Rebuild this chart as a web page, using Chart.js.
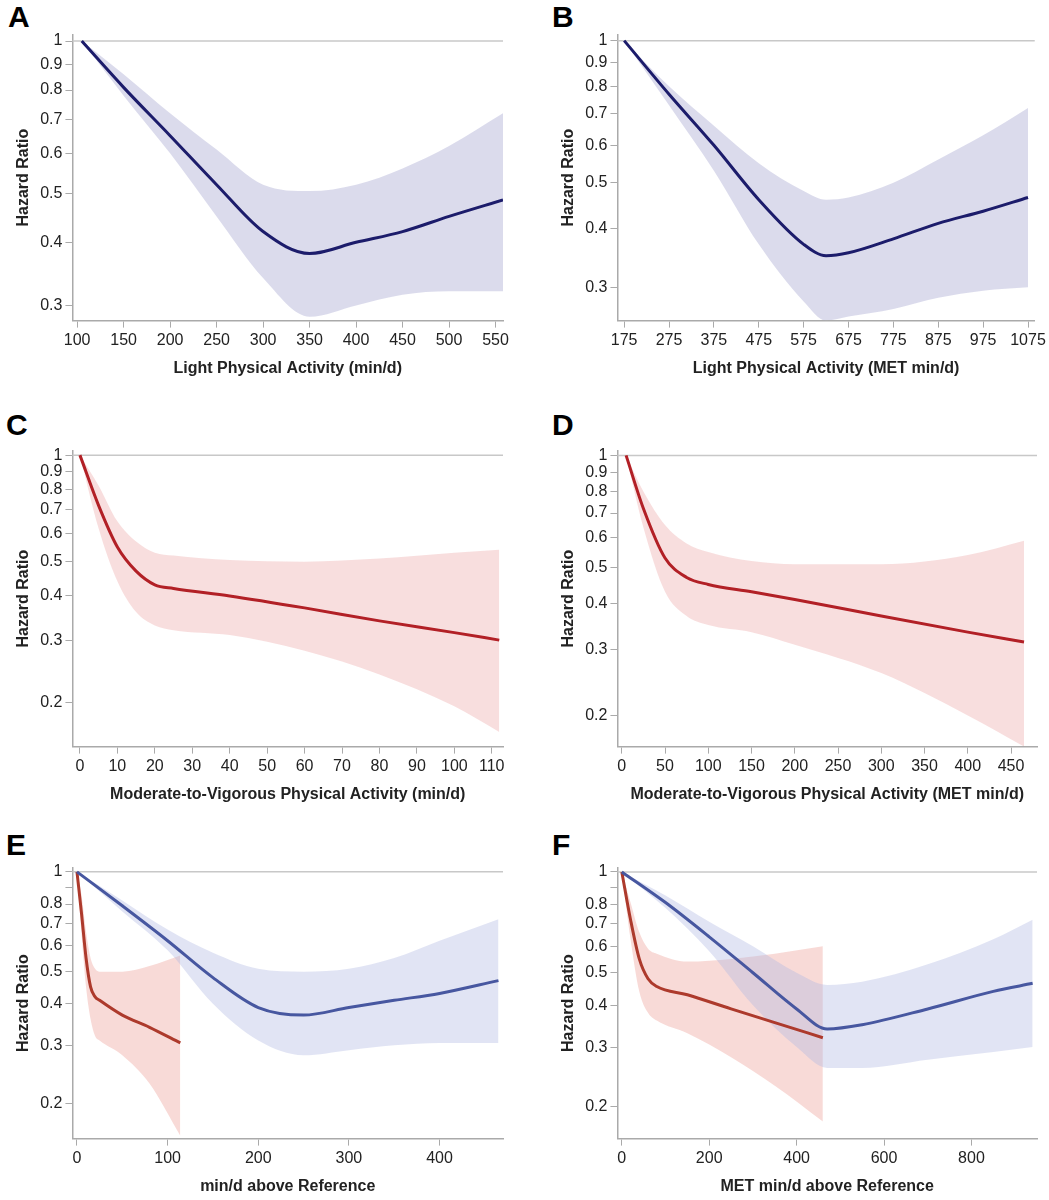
<!DOCTYPE html>
<html><head><meta charset="utf-8">
<script src="https://cdn.jsdelivr.net/npm/chart.js@4"></script>
<style>
body{margin:0;background:#fff;font-family:Arial,"Liberation Sans",sans-serif;}
.p{position:absolute;}
.lbl{position:absolute;font:bold 30px "Liberation Sans",Arial,sans-serif;}
</style></head><body>
<div class="lbl" style="left:8px;top:0px">A</div>
<div class="lbl" style="left:552px;top:0px">B</div>
<div class="lbl" style="left:6px;top:408px">C</div>
<div class="lbl" style="left:552px;top:408px">D</div>
<div class="lbl" style="left:6px;top:828px">E</div>
<div class="lbl" style="left:552px;top:828px">F</div>
<div class="p" style="left:10px;top:22px;width:505px;height:360px"><canvas id="cA"></canvas></div>
<div class="p" style="left:555px;top:22px;width:494px;height:360px"><canvas id="cB"></canvas></div>
<div class="p" style="left:10px;top:438px;width:505px;height:370px"><canvas id="cC"></canvas></div>
<div class="p" style="left:555px;top:438px;width:494px;height:370px"><canvas id="cD"></canvas></div>
<div class="p" style="left:10px;top:855px;width:505px;height:345px"><canvas id="cE"></canvas></div>
<div class="p" style="left:555px;top:855px;width:494px;height:345px"><canvas id="cF"></canvas></div>
<script>
// Panel A - light PA min/d
const aX  = [105,150,200,250,300,350,400,450,500,558];
const aHR = [1,0.81,0.65,0.52,0.42,0.38,0.40,0.42,0.45,0.485];
const aLo = [1,0.78,0.60,0.45,0.34,0.285,0.30,0.315,0.32,0.32];
const aHi = [1,0.86,0.72,0.61,0.52,0.505,0.52,0.56,0.62,0.72];
// Panel B - light PA MET min/d
const bX  = [175,275,375,475,575,625,675,775,875,975,1075];
const bHR = [1,0.77,0.60,0.46,0.37,0.35,0.355,0.38,0.41,0.435,0.465];
const bLo = [1,0.73,0.53,0.37,0.28,0.255,0.26,0.27,0.285,0.295,0.30];
const bHi = [1,0.80,0.66,0.55,0.48,0.46,0.465,0.50,0.56,0.63,0.72];
// Panel C - MVPA min/d
const cX  = [0,5,10,15,20,25,40,60,80,100,112];
const cHR = [1,0.72,0.55,0.47,0.43,0.42,0.40,0.37,0.34,0.315,0.30];
const cLo = [1,0.62,0.44,0.36,0.33,0.32,0.31,0.28,0.24,0.195,0.165];
const cHi = [1,0.82,0.65,0.57,0.53,0.52,0.505,0.50,0.51,0.53,0.54];
// Panel D - MVPA MET min/d
const dX  = [5,25,50,75,100,150,200,300,400,465];
const dHR = [1,0.72,0.53,0.47,0.45,0.43,0.41,0.37,0.335,0.315];
const dLo = [1,0.64,0.43,0.37,0.35,0.335,0.31,0.26,0.20,0.165];
const dHi = [1,0.80,0.65,0.58,0.55,0.52,0.51,0.51,0.54,0.59];
// Panel E - min/d above reference
const eBlueX  = [0,50,100,150,200,250,300,350,400,465];
const eBlueHR = [1,0.79,0.62,0.48,0.39,0.37,0.39,0.41,0.43,0.47];
const eBlueLo = [1,0.76,0.58,0.40,0.31,0.28,0.29,0.30,0.305,0.305];
const eBlueHi = [1,0.82,0.67,0.57,0.51,0.50,0.51,0.55,0.62,0.72];
const eRedX  = [0,5,10,15,20,25,50,80,114];
const eRedHR = [1,0.75,0.55,0.45,0.42,0.41,0.37,0.34,0.305];
const eRedLo = [1,0.65,0.45,0.36,0.32,0.31,0.28,0.23,0.16];
const eRedHi = [1,0.85,0.66,0.55,0.51,0.50,0.50,0.52,0.56];
// Panel F - MET min/d above reference
const fBlueX  = [0,100,200,300,400,470,550,700,850,940];
const fBlueHR = [1,0.81,0.64,0.50,0.39,0.34,0.35,0.39,0.44,0.465];
const fBlueLo = [1,0.78,0.58,0.40,0.30,0.26,0.26,0.275,0.29,0.30];
const fBlueHi = [1,0.85,0.71,0.60,0.50,0.46,0.47,0.53,0.63,0.72];
const fRedX  = [0,20,40,60,80,150,250,350,460];
const fRedHR = [1,0.72,0.55,0.48,0.455,0.43,0.39,0.355,0.32];
const fRedLo = [1,0.63,0.44,0.38,0.36,0.33,0.28,0.23,0.18];
const fRedHi = [1,0.81,0.66,0.59,0.57,0.54,0.55,0.57,0.60];

const ticksAB = [0.3,0.4,0.5,0.6,0.7,0.8,0.9,1];
const ticksCF = [0.2,0.3,0.4,0.5,0.6,0.7,0.8,0.9,1];

const pts = (xs, ys) => xs.map((x, i) => ({x: x, y: ys[i]}));

const refLine = {
    id: 'refLine',
    beforeDatasetsDraw(chart) {
        const {ctx, chartArea} = chart;
        const y = chart.scales.y.getPixelForValue(1);
        ctx.save();
        ctx.strokeStyle = '#c8c8c8';
        ctx.lineWidth = 1.5;
        ctx.beginPath();
        ctx.moveTo(chartArea.left, y);
        ctx.lineTo(chartArea.right, y);
        ctx.stroke();
        ctx.restore();
    }
};

const series = (xs, hr, lo, hi, line, band) => [
    {data: pts(xs, lo), order: 2, borderWidth: 0, pointRadius: 0, fill: false, borderColor: 'transparent'},
    {data: pts(xs, hi), order: 2, borderWidth: 0, pointRadius: 0, fill: '-1', backgroundColor: band, borderColor: 'transparent'},
    {data: pts(xs, hr), order: 0, borderWidth: 3, pointRadius: 0, fill: false, borderColor: line}
];

const makePanel = (id, datasets, xOpt, yMin, yMax, yTicks, skip09, xTitle) => {
    new Chart(document.getElementById(id), {
        type: 'line',
        data: {datasets: datasets},
        plugins: [refLine],
        options: {
            responsive: true,
            maintainAspectRatio: false,
            animation: false,
            layout: {padding: {right: 12, top: 6}},
            elements: {line: {cubicInterpolationMode: 'monotone'}},
            plugins: {legend: {display: false}, tooltip: {enabled: false}},
            scales: {
                x: Object.assign({
                    type: 'linear',
                    border: {color: '#aaa', width: 1.5},
                    grid: {drawOnChartArea: false, color: '#aaa', tickLength: 7},
                    ticks: {color: '#222', font: {size: 16}, maxRotation: 0, callback: v => String(v)},
                    title: {display: true, text: xTitle, color: '#222', font: {size: 16, weight: 'bold'}, padding: {top: 6}}
                }, xOpt),
                y: {
                    type: 'logarithmic',
                    min: yMin, max: yMax,
                    afterBuildTicks: s => { s.ticks = yTicks.map(v => ({value: v})); },
                    border: {color: '#aaa', width: 1.5},
                    grid: {drawOnChartArea: false, color: '#aaa', tickLength: 7},
                    ticks: {color: '#222', font: {size: 16},
                        callback: v => (skip09 && v === 0.9) ? '' : String(v)},
                    title: {display: true, text: 'Hazard Ratio', color: '#222', font: {size: 16, weight: 'bold'}}
                }
            }
        }
    });
};

const navy = '#1c1c6b', navyBand = 'rgba(190,190,220,0.55)';
const red = '#b22026', redBand = 'rgba(235,160,160,0.35)';
const blue2 = '#4757a0', blue2Band = 'rgba(175,185,225,0.38)';
const red2 = '#ad3a2c', red2Band = 'rgba(235,150,140,0.35)';

makePanel('cA', series(aX, aHR, aLo, aHi, navy, navyBand),
    {min: 95, max: 558, afterBuildTicks: s => { s.ticks = [100,150,200,250,300,350,400,450,500,550].map(v => ({value: v})); }},
    0.281, 1.03, ticksAB, false, 'Light Physical Activity (min/d)');
makePanel('cB', series(bX, bHR, bLo, bHi, navy, navyBand),
    {min: 160, max: 1090, afterBuildTicks: s => { s.ticks = [175,275,375,475,575,675,775,875,975,1075].map(v => ({value: v})); }},
    0.255, 1.03, ticksAB, false, 'Light Physical Activity (MET min/d)');
makePanel('cC', series(cX, cHR, cLo, cHi, red, redBand),
    {min: -2, max: 113, afterBuildTicks: s => { s.ticks = [0,10,20,30,40,50,60,70,80,90,100,110].map(v => ({value: v})); }},
    0.15, 1.03, ticksCF, false, 'Moderate-to-Vigorous Physical Activity (min/d)');
makePanel('cD', series(dX, dHR, dLo, dHi, red, redBand),
    {min: -5, max: 480, afterBuildTicks: s => { s.ticks = [0,50,100,150,200,250,300,350,400,450].map(v => ({value: v})); }},
    0.165, 1.03, ticksCF, false, 'Moderate-to-Vigorous Physical Activity (MET min/d)');
makePanel('cE', series(eBlueX, eBlueHR, eBlueLo, eBlueHi, blue2, blue2Band).concat(series(eRedX, eRedHR, eRedLo, eRedHi, red2, red2Band)),
    {min: -5, max: 470, afterBuildTicks: s => { s.ticks = [0,100,200,300,400].map(v => ({value: v})); }},
    0.157, 1.03, ticksCF, true, 'min/d above Reference');
makePanel('cF', series(fBlueX, fBlueHR, fBlueLo, fBlueHi, blue2, blue2Band).concat(series(fRedX, fRedHR, fRedLo, fRedHi, red2, red2Band)),
    {min: -10, max: 950, afterBuildTicks: s => { s.ticks = [0,200,400,600,800].map(v => ({value: v})); }},
    0.16, 1.03, ticksCF, true, 'MET min/d above Reference');
</script>
</body></html>
